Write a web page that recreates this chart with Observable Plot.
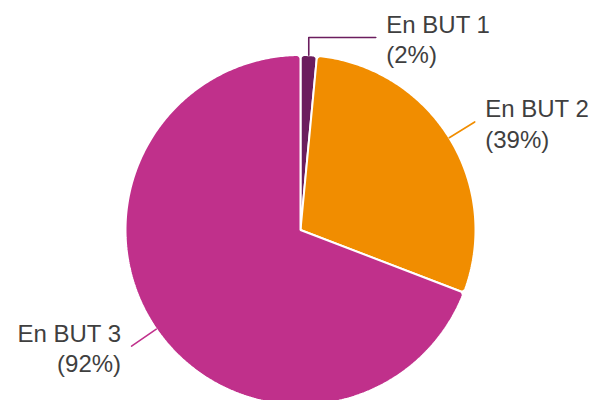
<!DOCTYPE html>
<html>
<head>
<meta charset="utf-8">
<script src="https://cdn.jsdelivr.net/npm/d3@7"></script>
<script src="https://cdn.jsdelivr.net/npm/@observablehq/plot@0.6"></script>
<style>
  html, body { margin: 0; padding: 0; background: #fff; }
  #chart { width: 594px; height: 400px; }
</style>
</head>
<body>
<div id="chart"></div>
<script>
// ---- data ----
const categories = ["En BUT 1", "En BUT 2", "En BUT 3"];
const values = [2, 39, 92];
const valueLabels = ["(2%)", "(39%)", "(92%)"];
const colors = ["#6b1d5e", "#f18d00", "#c0308b"];

// ---- layout ----
const W = 594, H = 400;
const cx = 300, cy = 229.5, R = 175, corner = 4;
const leaderR = 205;

const pie = d3.pie().sort(null).value(d => d.value)(
  categories.map((c, i) => ({category: c, value: values[i], label: valueLabels[i]}))
);

const pt = (r, a) => ({x: cx + r * Math.sin(a), y: cy - r * Math.cos(a)});

// slice polygon with rounded outer corners
function slicePoints(a0, a1, key) {
  const pts = [];
  const d = R - corner;
  const delta = Math.asin(corner / d);
  const along = d * Math.cos(delta);
  function fillet(edgeA, s, reverse) {
    const ac = edgeA + s * delta;
    const C = pt(d, ac);
    const T1 = pt(along, edgeA);
    const T2 = pt(R, ac);
    let t1 = Math.atan2(T1.y - C.y, T1.x - C.x);
    let t2 = Math.atan2(T2.y - C.y, T2.x - C.x);
    let diff = t2 - t1;
    while (diff > Math.PI) diff -= 2 * Math.PI;
    while (diff < -Math.PI) diff += 2 * Math.PI;
    const arr = [];
    for (let k = 0; k <= 8; k++) {
      const t = t1 + diff * k / 8;
      arr.push({x: C.x + corner * Math.cos(t), y: C.y + corner * Math.sin(t)});
    }
    return reverse ? arr.reverse() : arr;
  }
  pts.push({x: cx, y: cy});
  pts.push(...fillet(a0, 1, false));
  const s0 = a0 + delta, s1 = a1 - delta;
  const n = Math.max(2, Math.ceil((s1 - s0) / 0.01));
  for (let k = 0; k <= n; k++) pts.push(pt(R, s0 + (s1 - s0) * k / n));
  pts.push(...fillet(a1, -1, true));
  return pts.map(p => ({...p, key}));
}

const sliceData = pie.flatMap(p => slicePoints(p.startAngle, p.endAngle, p.data.category));

// leaders and labels
const leaderData = [];
const labelData = [];
pie.forEach(p => {
  const mid = (p.startAngle + p.endAngle) / 2;
  const start = pt(R, mid);
  let end, anchor;
  if (Math.abs(Math.sin(mid)) < 0.25 && Math.cos(mid) > 0) {
    const up = {x: start.x, y: cy - 192.5};
    end = {x: start.x + 67, y: up.y};
    leaderData.push({...start, key: p.data.category}, {...up, key: p.data.category}, {...end, key: p.data.category});
    anchor = "start";
  } else {
    end = pt(leaderR, mid);
    leaderData.push({...start, key: p.data.category}, {...end, key: p.data.category});
    anchor = Math.sin(mid) >= 0 ? "start" : "end";
  }
  labelData.push({
    x: anchor === "start" ? end.x + 10.5 : end.x - 10.5,
    y: end.y,
    anchor,
    text: p.data.category + "\n" + p.data.label
  });
});

const chart = Plot.plot({
  width: W,
  height: H,
  margin: 0,
  x: {domain: [0, W], range: [0, W], axis: null},
  y: {domain: [0, H], range: [0, H], axis: null},
  color: {domain: categories, range: colors},
  style: {fontFamily: "'Liberation Sans', Arial, sans-serif", background: "#fff"},
  marks: [
    Plot.line(sliceData, {x: "x", y: "y", z: "key", fill: "key", stroke: "white", strokeWidth: 2, strokeLinejoin: "miter", curve: "linear-closed"}),
    Plot.line(leaderData, {x: "x", y: "y", z: "key", stroke: "key", strokeWidth: 1.6}),
    Plot.text(labelData.filter(d => d.anchor === "start"), {x: "x", y: "y", text: "text", textAnchor: "start", lineAnchor: "middle", lineHeight: 1.27, fontSize: 24, fill: "#3f3f3f", dy: 1}),
    Plot.text(labelData.filter(d => d.anchor === "end"), {x: "x", y: "y", text: "text", textAnchor: "end", lineAnchor: "middle", lineHeight: 1.27, fontSize: 24, fill: "#3f3f3f", dy: 1})
  ]
});
document.getElementById("chart").appendChild(chart);
</script>
</body>
</html>
